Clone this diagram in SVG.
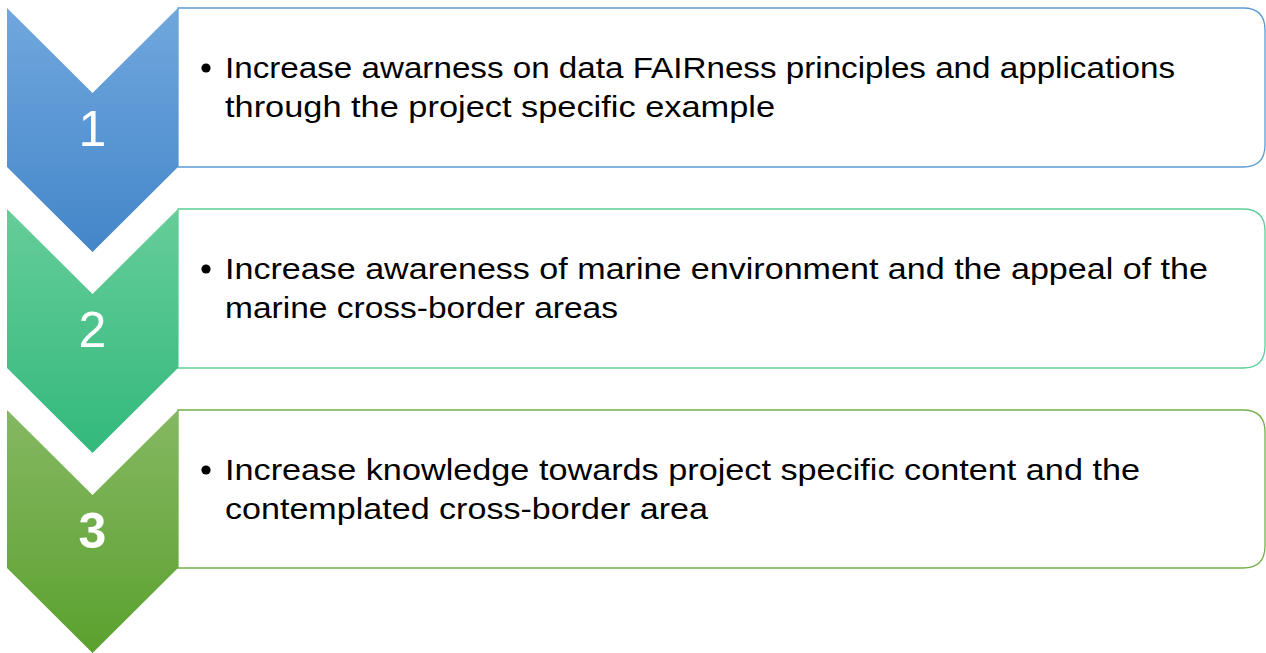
<svg xmlns="http://www.w3.org/2000/svg" width="1266" height="653" viewBox="0 0 1266 653">
  <defs>
    <linearGradient id="g1" x1="0" y1="0" x2="0" y2="1">
      <stop offset="0" stop-color="#71a7de"/>
      <stop offset="1" stop-color="#4386c9"/>
    </linearGradient>
    <linearGradient id="g2" x1="0" y1="0" x2="0" y2="1">
      <stop offset="0" stop-color="#66cd99"/>
      <stop offset="1" stop-color="#33b97d"/>
    </linearGradient>
    <linearGradient id="g3" x1="0" y1="0" x2="0" y2="1">
      <stop offset="0" stop-color="#85b862"/>
      <stop offset="1" stop-color="#5ba12e"/>
    </linearGradient>
  </defs>
  <style>
    .box { fill: #ffffff; stroke-width: 1.3; }
    .txt { font-family: "Liberation Sans", Arial, sans-serif; font-size: 30px; fill: #000000; }
    .num { font-family: "Liberation Sans", Arial, sans-serif; font-size: 50px; fill: #ffffff; text-anchor: middle; }
  </style>
  <rect width="1266" height="653" fill="#ffffff"/>

  <g id="step1">
    <path class="box" stroke="#5b9bd5" d="M178,8 H1243 Q1265,8 1265,30 V145 Q1265,167 1243,167 H178 Z"/>
    <path fill="url(#g1)" d="M7,8 L92.5,93 L178,8 L178,167 L92.5,252 L7,167 Z"/>
    <text class="num" x="92.5" y="146">1</text>
    <circle cx="206" cy="68" r="4.6" fill="#000"/>
    <text class="txt" x="225" y="78" textLength="950" lengthAdjust="spacingAndGlyphs">Increase awarness on data FAIRness principles and applications</text>
    <text class="txt" x="225" y="117" textLength="550" lengthAdjust="spacingAndGlyphs">through the project specific example</text>
  </g>

  <g id="step2">
    <path class="box" stroke="#5dcf98" d="M178,209 H1243 Q1265,209 1265,231 V346 Q1265,368 1243,368 H178 Z"/>
    <path fill="url(#g2)" d="M7,209 L92.5,294 L178,209 L178,368 L92.5,453 L7,368 Z"/>
    <text class="num" x="92.5" y="347">2</text>
    <circle cx="206" cy="269" r="4.6" fill="#000"/>
    <text class="txt" x="225" y="279" textLength="983" lengthAdjust="spacingAndGlyphs">Increase awareness of marine environment and the appeal of the</text>
    <text class="txt" x="225" y="318" textLength="393" lengthAdjust="spacingAndGlyphs">marine cross-border areas</text>
  </g>

  <g id="step3">
    <path class="box" stroke="#72b04a" d="M178,410 H1243 Q1265,410 1265,432 V546 Q1265,568 1243,568 H178 Z"/>
    <path fill="url(#g3)" d="M7,410 L92.5,495 L178,410 L178,568 L92.5,653 L7,568 Z"/>
    <text class="num" x="92.5" y="548" font-weight="bold">3</text>
    <circle cx="206" cy="470" r="4.6" fill="#000"/>
    <text class="txt" x="225" y="480" textLength="915" lengthAdjust="spacingAndGlyphs">Increase knowledge towards project specific content and the</text>
    <text class="txt" x="225" y="519" textLength="483" lengthAdjust="spacingAndGlyphs">contemplated cross-border area</text>
  </g>

  <g id="connectors"></g>
</svg>
